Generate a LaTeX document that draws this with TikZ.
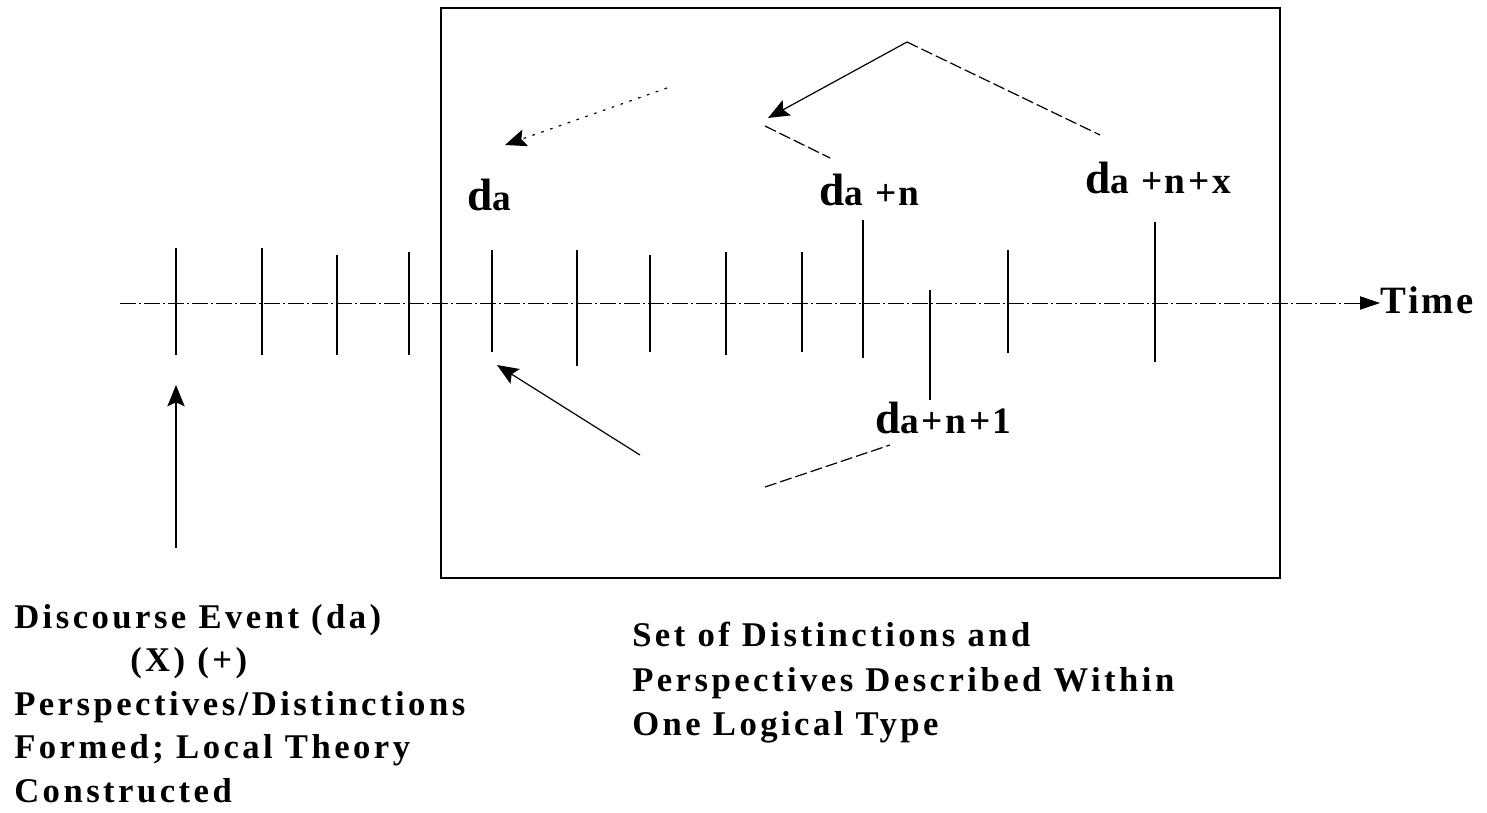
\documentclass[tikz,border=0pt]{standalone}
\usepackage{fontspec}
\setmainfont{Liberation Serif}
\newfontfamily\bodyfont[LetterSpace=10]{Liberation Serif}
\newfontfamily\labfont[LetterSpace=7]{Liberation Serif}
\usetikzlibrary{arrows.meta}
\begin{document}
\begin{tikzpicture}[x=0.75pt,y=-0.75pt,
  body/.style={font=\bodyfont\bfseries\fontsize{26}{30}\selectfont, anchor=base west, inner sep=0pt},
  lab/.style={font=\labfont\bfseries\fontsize{28}{30}\selectfont, anchor=base west, inner sep=0pt},
  tickline/.style={line width=1pt},
  conn/.style={line width=0.9pt},
  dconn/.style={conn, dash pattern=on 9pt off 3pt},
  oconn/.style={conn, dash pattern=on 2pt off 5pt},
  head/.style={-{Stealth[length=16pt,width=13pt,inset=3pt]}},
  timeline/.style={line width=0.7pt, dash pattern=on 12pt off 2pt on 2pt off 2pt}
]
\useasboundingbox (0,0) rectangle (1487,813);
% frame
\draw[line width=1pt] (441,8) rectangle (1280,578);
% time axis
\coordinate (tstart) at (120,303);
\node[font=\labfont\bfseries\fontsize{29}{30}\selectfont, anchor=base west, inner sep=0pt] (time) at (1380,313) {Time};
\draw[timeline, -{Triangle[length=15pt,width=10pt]}] (tstart) -- (time.west |- tstart);
% ticks
\foreach \x/\t/\b in {176/248/355, 262/248/355, 337/255/355, 409/252/355, 577/250/366, 650/255/352, 726/252/355, 802/252/352, 1008/250/353}
  \draw[tickline] (\x,\t) -- (\x,\b);
\draw[tickline] (492,250) coordinate (tda) -- (492,352) coordinate (tdab);
\draw[tickline] (863,220) coordinate (tdn) -- (863,358);
\draw[tickline] (930,290) coordinate (tdn1) -- (930,400);
\draw[tickline] (1155,222) coordinate (tdnx) -- (1155,362);
% labels
\node[lab] (la)   at (467,210) {{\fontsize{34}{34}\selectfont d}a};
\node[lab] (lan)  at (819,205) {{\fontsize{34}{34}\selectfont d}a +n};
\node[lab] (lanx) at (1085,193) {{\fontsize{34}{34}\selectfont d}a +n+x};
\node[lab] (lan1) at (875,433) {{\fontsize{34}{34}\selectfont d}a+n+1};
% upper arrows
\coordinate (apex) at (907,42);
\coordinate (tipA) at (768,118);
\coordinate (rightend) at (1100,135);
\coordinate (midA) at (765,126);
\coordinate (midB) at (830,158);
\coordinate (dotstart) at (667,88);
\coordinate (tipB) at (505,145);
\draw[conn, head] (apex) -- (tipA);
\draw[dconn] (apex) -- (rightend);
\draw[dconn] (midA) -- (midB);
\draw[oconn, head] (dotstart) -- (tipB);
% lower arrows
\coordinate (lowstart) at (640,455);
\coordinate (tipC) at (497,365);
\coordinate (lowA) at (765,487);
\coordinate (lowB) at (890,445);
\draw[conn, head] (lowstart) -- (tipC);
\draw[dconn] (lowA) -- (lowB);
% left arrow
\coordinate (leftstart) at (176,548);
\coordinate (tipD) at (176,385);
\draw[conn, head] (leftstart) -- (tipD);
% left text
\node[body] (t1) at (14,628) {Discourse Event (da)};
\node[body] (t2) at (130,671) {(X) (+)};
\node[body] (t3) at (14,715) {Perspectives/Distinctions};
\node[body] (t4) at (14,758) {Formed; Local Theory};
\node[body] (t5) at (14,802) {Constructed};
% right text
\node[body] (r1) at (632,646) {Set of Distinctions and};
\node[body] (r2) at (632,691) {Perspectives Described Within};
\node[body] (r3) at (632,735) {One Logical Type};
\end{tikzpicture}
\end{document}
